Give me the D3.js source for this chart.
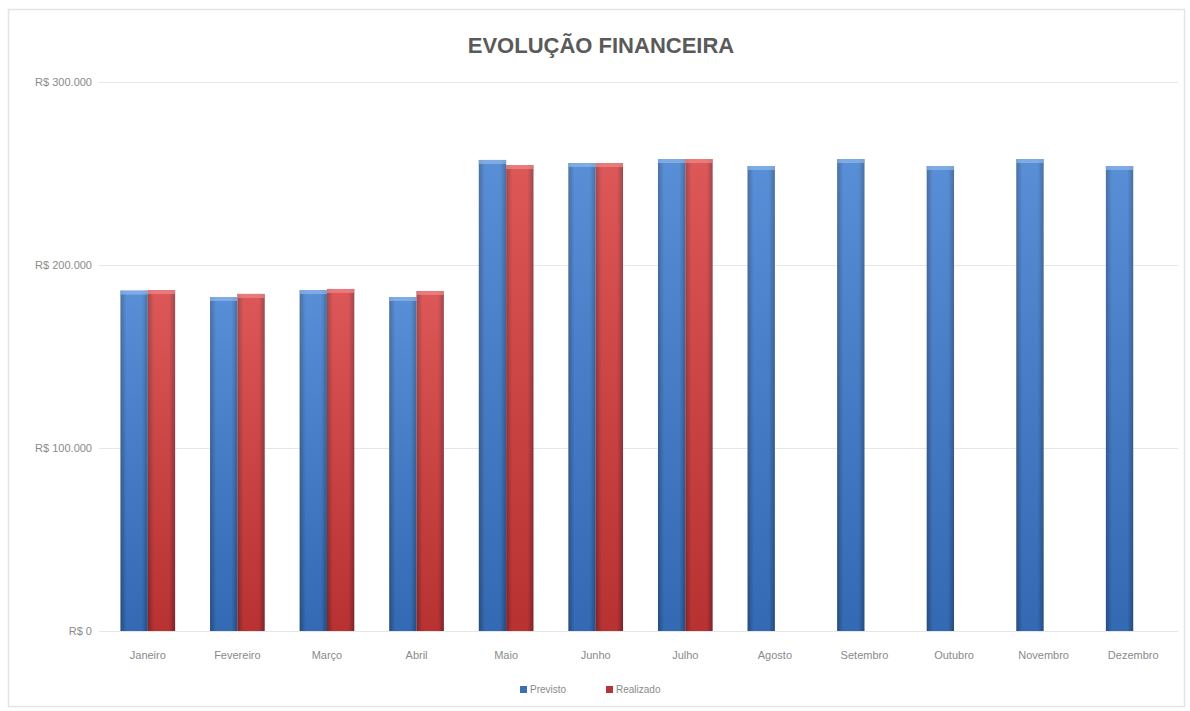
<!DOCTYPE html>
<html>
<head>
<meta charset="utf-8">
<script src="https://cdn.jsdelivr.net/npm/d3@7"></script>
<style>
  html, body { margin: 0; padding: 0; background: #fff; }
  svg { display: block; }
</style>
</head>
<body>
<svg id="chart" width="1190" height="711"></svg>
<script>
// Monthly forecast vs. actual (R$)
const months = ["Janeiro", "Fevereiro", "Março", "Abril", "Maio", "Junho",
                "Julho", "Agosto", "Setembro", "Outubro", "Novembro", "Dezembro"];
const previsto  = [186000, 182500, 186300, 182500, 257400, 255700,
                   257900, 254100, 257900, 254100, 257900, 254100];
const realizado = [186300, 184200, 186900, 185800, 254600, 255700,
                   257900, null, null, null, null, null];
const yTicks = [0, 100000, 200000, 300000];
const seriesNames = ["Previsto", "Realizado"];

const svg = d3.select("#chart");
const W = 1190, H = 711;
const margin = { top: 82, right: 12, bottom: 80, left: 103 };
const plotW = W - margin.left - margin.right;
const plotH = H - margin.top - margin.bottom;

// chart frame
svg.append("rect")
  .attr("x", 8.5).attr("y", 9.5).attr("width", W - 14).attr("height", H - 14)
  .attr("fill", "#fff").attr("stroke", "#e4e4e4").attr("stroke-width", 1.5);

// gradients for bar fills
const defs = svg.append("defs");
function barGradient(id, edge, mid) {
  const g = defs.append("linearGradient").attr("id", id)
    .attr("x1", 0).attr("x2", 1).attr("y1", 0).attr("y2", 0);
  g.append("stop").attr("offset", "0%").attr("stop-color", edge);
  g.append("stop").attr("offset", "22%").attr("stop-color", mid);
  g.append("stop").attr("offset", "78%").attr("stop-color", mid);
  g.append("stop").attr("offset", "100%").attr("stop-color", edge);
}
barGradient("gradBlue", "#2c5790", "#3b7bd0");
barGradient("gradRed", "#8e2a32", "#d73a3a");
const shade = defs.append("linearGradient").attr("id", "shade")
  .attr("x1", 0).attr("x2", 0).attr("y1", 0).attr("y2", 1);
shade.append("stop").attr("offset", "0%").attr("stop-color", "#fff").attr("stop-opacity", 0.15);
shade.append("stop").attr("offset", "100%").attr("stop-color", "#000").attr("stop-opacity", 0.14);

const g = svg.append("g").attr("transform", `translate(${margin.left},${margin.top})`);

const x0 = d3.scaleBand().domain(months).range([0, plotW]).paddingInner(0.39).paddingOuter(0.195);
const x1 = d3.scaleBand().domain(seriesNames).range([0, x0.bandwidth()]).padding(0);
const y = d3.scaleLinear().domain([0, 300000]).range([plotH, 0]);

// gridlines
g.append("g").selectAll("line").data(yTicks).join("line")
  .attr("x1", -4).attr("x2", plotW)
  .attr("y1", d => y(d) + 0.5).attr("y2", d => y(d) + 0.5)
  .attr("stroke", "#e6e6e6").attr("stroke-width", 1.2);

// y axis labels
const fmt = v => "R$ " + (v === 0 ? "0" : d3.format(",")(v).replace(/,/g, "."));
const yAxis = d3.axisLeft(y).tickValues(yTicks).tickFormat(fmt).tickSize(0).tickPadding(11);
g.append("g").call(yAxis)
  .call(s => s.select(".domain").remove())
  .selectAll("text")
  .attr("fill", "#8a8a8a").style("font-family", "Liberation Sans, Arial, sans-serif")
  .style("font-size", "11px");

// bars
const rows = months.map((m, i) => ({ m, vals: [previsto[i], realizado[i]] }));
const groups = g.append("g").selectAll("g").data(rows).join("g")
  .attr("transform", d => `translate(${x0(d.m)},0)`);
const barData = d => d.vals.map((v, k) => ({ v, s: seriesNames[k], k })).filter(e => e.v != null);
groups.selectAll("rect.bar").data(barData)
  .join("rect").attr("class", "bar")
  .attr("x", e => x1(e.s)).attr("width", x1.bandwidth())
  .attr("y", e => y(e.v)).attr("height", e => plotH - y(e.v))
  .attr("fill", e => e.k === 0 ? "url(#gradBlue)" : "url(#gradRed)");
groups.selectAll("rect.shade").data(barData)
  .join("rect").attr("class", "shade")
  .attr("x", e => x1(e.s)).attr("width", x1.bandwidth())
  .attr("y", e => y(e.v)).attr("height", e => plotH - y(e.v))
  .attr("fill", "url(#shade)");
// light cap on each bar top
groups.selectAll("rect.cap").data(barData)
  .join("rect").attr("class", "cap")
  .attr("x", e => x1(e.s)).attr("width", x1.bandwidth())
  .attr("y", e => y(e.v)).attr("height", 4)
  .attr("fill", e => e.k === 0 ? "#8fb8ea" : "#ee8a8a").attr("opacity", 0.7);

// x axis labels
const xAxis = d3.axisBottom(x0).tickSize(0).tickPadding(20);
g.append("g").attr("transform", `translate(0,${plotH})`).call(xAxis)
  .call(s => s.select(".domain").remove())
  .selectAll("text")
  .attr("fill", "#8a8a8a").style("font-family", "Liberation Sans, Arial, sans-serif")
  .style("font-size", "11px");

// title
svg.append("text").attr("x", 601).attr("y", 53).attr("text-anchor", "middle")
  .attr("fill", "#5a5a5a").style("font-family", "Liberation Sans, Arial, sans-serif")
  .style("font-size", "22px").style("font-weight", "bold")
  .text("EVOLUÇÃO FINANCEIRA");

// legend
const legend = svg.append("g").attr("transform", "translate(520,690)");
const legendItems = [
  { name: seriesNames[0], color: "#3d6fb4", dx: 0 },
  { name: seriesNames[1], color: "#b5343a", dx: 86 }
];
const li = legend.selectAll("g").data(legendItems).join("g")
  .attr("transform", d => `translate(${d.dx},0)`);
li.append("rect").attr("x", 0).attr("y", -4).attr("width", 7).attr("height", 7)
  .attr("fill", d => d.color);
li.append("text").attr("x", 10).attr("y", 3)
  .attr("fill", "#8a8a8a").style("font-family", "Liberation Sans, Arial, sans-serif")
  .style("font-size", "10px").text(d => d.name);
</script>
</body>
</html>
